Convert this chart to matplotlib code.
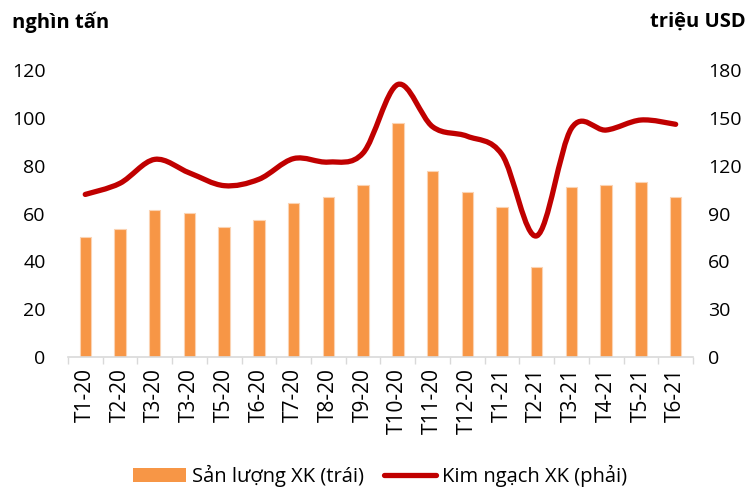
import numpy as np
import matplotlib.pyplot as plt
from matplotlib.path import Path
from matplotlib.patches import PathPatch
from matplotlib.lines import Line2D
from matplotlib.patches import Patch

plt.rcParams['font.family'] = ['Open Sans', 'DejaVu Sans']

# data
months = ['T1-20', 'T2-20', 'T3-20', 'T3-20', 'T5-20', 'T6-20', 'T7-20', 'T8-20', 'T9-20',
          'T10-20', 'T11-20', 'T12-20', 'T1-21', 'T2-21', 'T3-21', 'T4-21', 'T5-21', 'T6-21']
san_luong = [50, 53.5, 61.5, 60.2, 54.4, 57.3, 64.3, 67, 72, 98, 77.8, 68.9, 62.9, 37.7, 71, 72, 73, 67]
kim_ngach = [102, 109, 124, 115.5, 107.5, 111.5, 124.5, 122.3, 128, 171, 144.5, 138.5, 127, 76, 143.5, 142.4, 148.7, 146]

bar_color = '#F79646'
line_color = '#C00000'
grid_grey = '#D9D9D9'

fig = plt.figure(figsize=(7.46, 4.87), dpi=100)
ax = fig.add_axes([0.091, 0.267, 0.838, 0.589])
ax2 = ax.twinx()

x = np.arange(len(months))
ax.bar(x, san_luong, width=0.33, color=bar_color, edgecolor='#FBD3B3', linewidth=0.8, zorder=2)

# smooth line (Catmull-Rom -> bezier), like Excel's smoothed line
def smooth_path(xs, ys):
    pts = np.column_stack([xs, ys])
    verts = [pts[0]]
    codes = [Path.MOVETO]
    n = len(pts)
    for i in range(n - 1):
        p0 = pts[max(i - 1, 0)]
        p1 = pts[i]
        p2 = pts[i + 1]
        p3 = pts[min(i + 2, n - 1)]
        c1 = p1 + (p2 - p0) / 6.0
        c2 = p2 - (p3 - p1) / 6.0
        verts += [c1, c2, p2]
        codes += [Path.CURVE4] * 3
    return Path(verts, codes)

ax2.add_patch(PathPatch(smooth_path(x, kim_ngach), facecolor='none', edgecolor=line_color,
                        lw=3.8, capstyle='round', joinstyle='round', zorder=3))

ax.set_xlim(-0.5, len(months) - 0.5)
ax.set_ylim(0, 120)
ax2.set_ylim(0, 180)
ax.set_yticks(range(0, 121, 20))
ax2.set_yticks(range(0, 181, 30))

ax.set_xticks(x)
ax.set_xticklabels(months, rotation=90, fontsize=15)
ax.set_xticks(np.arange(-0.5, len(months)), minor=True)
ax.tick_params(axis='x', which='major', length=0, pad=8)
ax.tick_params(axis='x', which='minor', length=5, color=grid_grey, width=1)
ax.tick_params(axis='y', length=0, labelsize=14, pad=16)
ax2.tick_params(axis='y', length=0, labelsize=14, pad=11)

for a in (ax, ax2):
    for s in ('top', 'left', 'right'):
        a.spines[s].set_visible(False)
ax.spines['bottom'].set_color(grid_grey)
ax.spines['bottom'].set_linewidth(1.2)
ax2.spines['bottom'].set_visible(False)

fig.text(0.016, 0.955, 'nghìn tấn', fontsize=14.5, fontweight='bold', ha='left', va='center')
fig.text(0.999, 0.955, 'triệu USD', fontsize=14.5, fontweight='bold', ha='right', va='center')

handles = [Patch(facecolor=bar_color, edgecolor='none'),
           Line2D([0], [0], color=line_color, lw=3.8, solid_capstyle='round')]
fig.legend(handles, ['Sản lượng XK (trái)', 'Kim ngạch XK (phải)'], loc='center',
           bbox_to_anchor=(0.51, 0.022), ncol=2, frameon=False, fontsize=14.5,
           handlelength=2.6, handletextpad=0.3, columnspacing=1.0)

fig.savefig('out.png', dpi=100)
